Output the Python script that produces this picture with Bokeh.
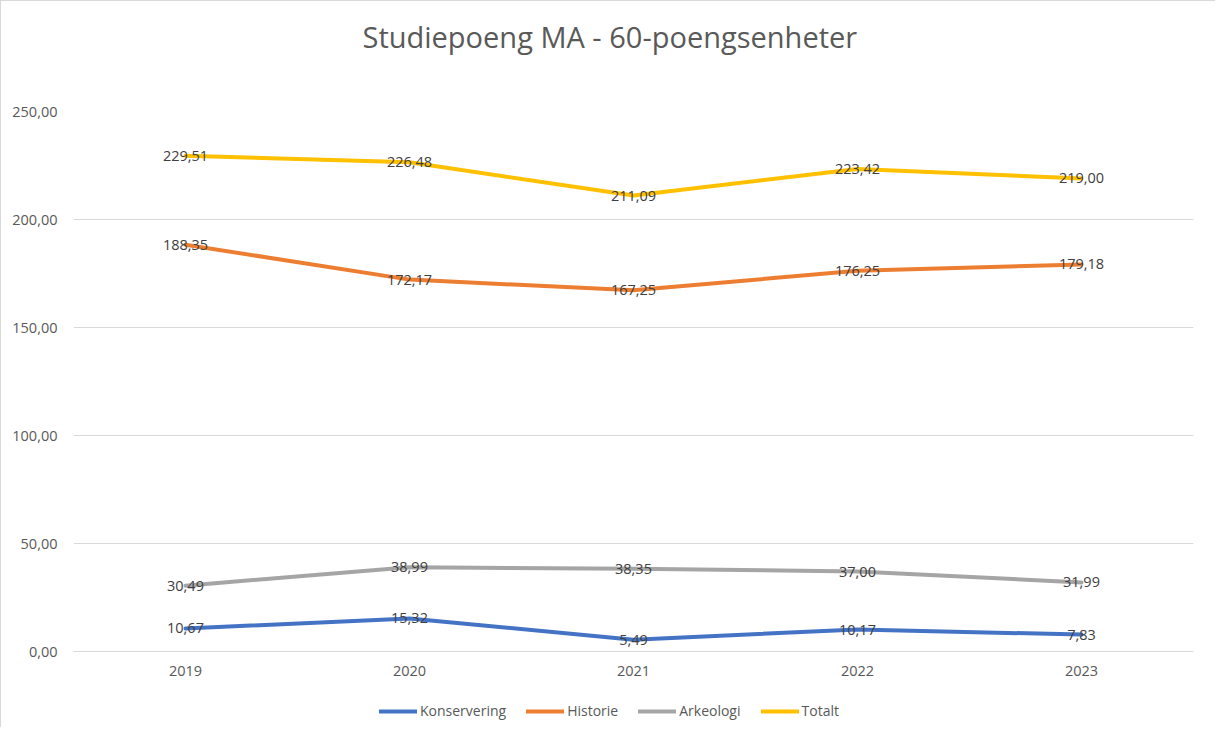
from bokeh.plotting import figure
from bokeh.layouts import column
from bokeh.models import ColumnDataSource, LabelSet, Title, Legend, LegendItem, CustomJSTickFormatter, FactorRange, Range1d, FixedTicker
from bokeh.core.properties import value
from bokeh.embed import file_html
from bokeh.resources import INLINE

years = ["2019", "2020", "2021", "2022", "2023"]
konservering = [10.67, 15.32, 5.49, 10.17, 7.83]
historie = [188.35, 172.17, 167.25, 176.25, 179.18]
arkeologi = [30.49, 38.99, 38.35, 37.00, 31.99]
totalt = [229.51, 226.48, 211.09, 223.42, 219.00]

series = [
    ("Konservering", konservering, "#4472C4"),
    ("Historie", historie, "#ED7D31"),
    ("Arkeologi", arkeologi, "#A5A5A5"),
    ("Totalt", totalt, "#FFC000"),
]
title_text = "Studiepoeng MA - 60-poengsenheter"

FONT = "Open Sans"
TXT = "#595959"
FS = "14.5px"

p = figure(width=1215, height=700, x_range=FactorRange(*years, range_padding=0),
           y_range=Range1d(0, 250), output_backend="svg", toolbar_location=None,
           min_border_left=72, min_border_right=23, min_border_top=110, min_border_bottom=50)
p.outline_line_color = None
p.styles = {"border-left": "1px solid #d9d9d9", "border-top": "1px solid #d9d9d9"}

# spacer (closest to frame) then the title above it
p.add_layout(Title(text=" ", standoff=38, text_font_size="10px"), "above")
p.add_layout(Title(text=title_text, align="left", offset=289, standoff=10,
                   text_font=FONT, text_font_size="29px", text_font_style="normal",
                   text_color=TXT), "above")

p.xgrid.grid_line_color = None
p.ygrid.grid_line_color = "#d9d9d9"
p.ygrid.grid_line_width = 1
p.yaxis.ticker = FixedTicker(ticks=[0, 50, 100, 150, 200, 250])
p.yaxis.formatter = CustomJSTickFormatter(code="return tick.toFixed(2).replace('.', ',');")
p.yaxis.axis_line_color = None
p.yaxis.major_tick_line_color = None
p.yaxis.minor_tick_line_color = None
p.yaxis.major_label_standoff = 10
p.yaxis.major_label_text_font = FONT
p.yaxis.major_label_text_font_size = FS
p.yaxis.major_label_text_color = TXT

p.xaxis.axis_line_color = "#d9d9d9"
p.xaxis.major_tick_line_color = None
p.xaxis.minor_tick_line_color = None
p.xaxis.major_label_standoff = 8
p.xaxis.major_label_text_font = FONT
p.xaxis.major_label_text_font_size = FS
p.xaxis.major_label_text_color = TXT

for name, vals, color in series:
    src = ColumnDataSource(dict(x=years, y=vals,
                                t=[f"{v:.2f}".replace(".", ",") for v in vals]))
    p.line("x", "y", source=src, line_color=color, line_width=4,
           line_cap="round", line_join="round")
    lbl = LabelSet(x="x", y="y", text="t", source=src, text_align="center",
                   text_baseline="middle", text_font=value(FONT), text_font_size=FS,
                   text_color="#404040")
    p.add_layout(lbl)

# legend strip below the chart (its frame is aligned with the main frame)
lf = figure(width=1215, height=27, x_range=FactorRange(*years, range_padding=0),
            y_range=Range1d(-2, -1), output_backend="svg", toolbar_location=None,
            min_border_left=0, min_border_right=0, min_border_top=0, min_border_bottom=0)
lf.axis.visible = False
lf.grid.visible = False
lf.outline_line_color = None
lf.styles = {"border-left": "1px solid #d9d9d9"}
items = []
for name, vals, color in series:
    r = lf.line(x=years, y=vals, line_color=color, line_width=4, line_cap="round")
    items.append(LegendItem(label=name, renderers=[r]))

legend = Legend(items=items, orientation="horizontal", location=(306, 7))
legend.border_line_color = None
legend.background_fill_alpha = 0
legend.label_text_font = FONT
legend.label_text_font_size = "14px"
legend.label_text_color = TXT
legend.glyph_width = 38
legend.glyph_height = 16
legend.label_height = 16
legend.label_standoff = 3
legend.spacing = 20
legend.padding = 0
legend.margin = 0
lf.add_layout(legend, "center")

open("out.html", "w").write(file_html(column(p, lf, spacing=0), INLINE))
